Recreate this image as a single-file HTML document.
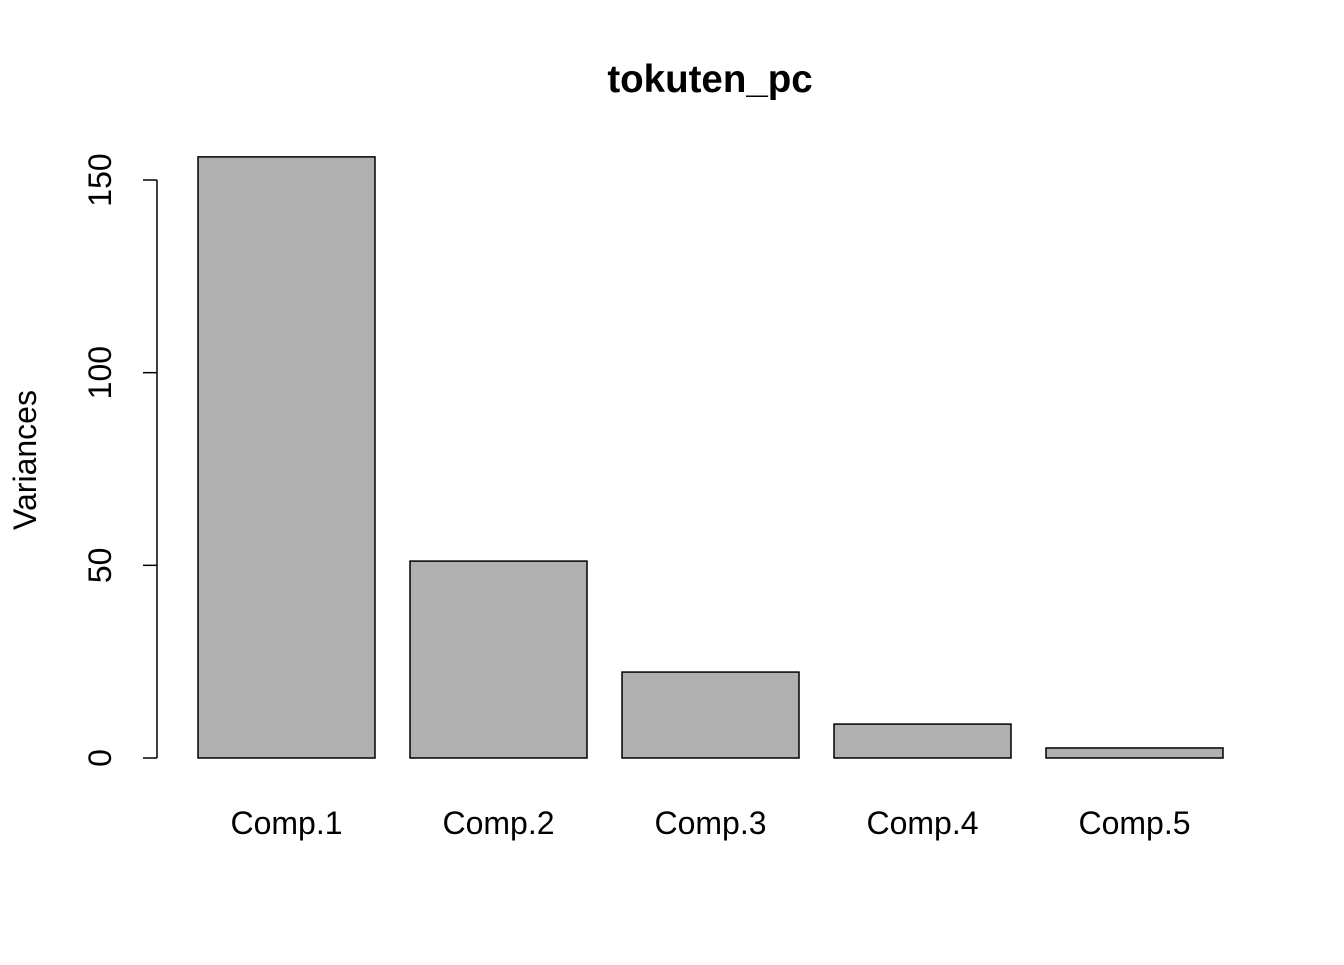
<!DOCTYPE html>
<html><head><meta charset="utf-8"><style>
body{margin:0;background:#fff}
text{font-family:"Liberation Sans",Arial,sans-serif}
</style></head><body>
<svg id="chart" width="1344" height="960" xmlns="http://www.w3.org/2000/svg">
<rect width="1344" height="960" fill="#fff"/>
<text x="710" y="92" text-anchor="middle" font-size="38.5" font-weight="bold">tokuten_pc</text>
<text transform="translate(36,460) rotate(-90)" text-anchor="middle" font-size="32">Variances</text>
<g id="bars"></g><g id="yaxis"></g><g id="xlabels"></g>
</svg>
<script>
const categories=["Comp.1","Comp.2","Comp.3","Comp.4","Comp.5"];
const variances=[156.0,51.1,22.3,8.8,2.6];
const yTicks=[0,50,100,150];
const NS="http://www.w3.org/2000/svg";
const y0=758,pxPerUnit=578/150;
function y(v){return y0-v*pxPerUnit;}
function xLeft(i){return 198+i*212;}
const bw=177;
const bars=document.getElementById('bars');
variances.forEach((v,i)=>{
 const r=document.createElementNS(NS,'rect');
 r.setAttribute('x',xLeft(i));r.setAttribute('y',y(v));
 r.setAttribute('width',bw);r.setAttribute('height',y0-y(v));
 r.setAttribute('fill','#b0b0b0');r.setAttribute('stroke','#000');r.setAttribute('stroke-width','1.5');
 
 
 bars.appendChild(r);
 const t=document.createElementNS(NS,'text');
 t.setAttribute('x',xLeft(i)+bw/2);t.setAttribute('y',834);
 t.setAttribute('text-anchor','middle');t.setAttribute('font-size','32');
 t.textContent=categories[i];
 
 
 document.getElementById('xlabels').appendChild(t);
});
const ya=document.getElementById('yaxis');
const ax=document.createElementNS(NS,'line');
ax.setAttribute('x1',157);ax.setAttribute('x2',157);
ax.setAttribute('y1',y(yTicks[yTicks.length-1]));ax.setAttribute('y2',y(yTicks[0]));
ax.setAttribute('stroke','#000');ax.setAttribute('stroke-width','1.5');


ya.appendChild(ax);
yTicks.forEach(v=>{
 const l=document.createElementNS(NS,'line');
 l.setAttribute('x1',143);l.setAttribute('x2',157);l.setAttribute('y1',y(v));l.setAttribute('y2',y(v));
 l.setAttribute('stroke','#000');l.setAttribute('stroke-width','1.5');
 
 
 ya.appendChild(l);
 const t=document.createElementNS(NS,'text');
 t.setAttribute('transform','translate(111,'+y(v)+') rotate(-90)');
 t.setAttribute('text-anchor','middle');t.setAttribute('font-size','32');
 t.textContent=v;
 
 
 ya.appendChild(t);
});
</script>
</body></html>
